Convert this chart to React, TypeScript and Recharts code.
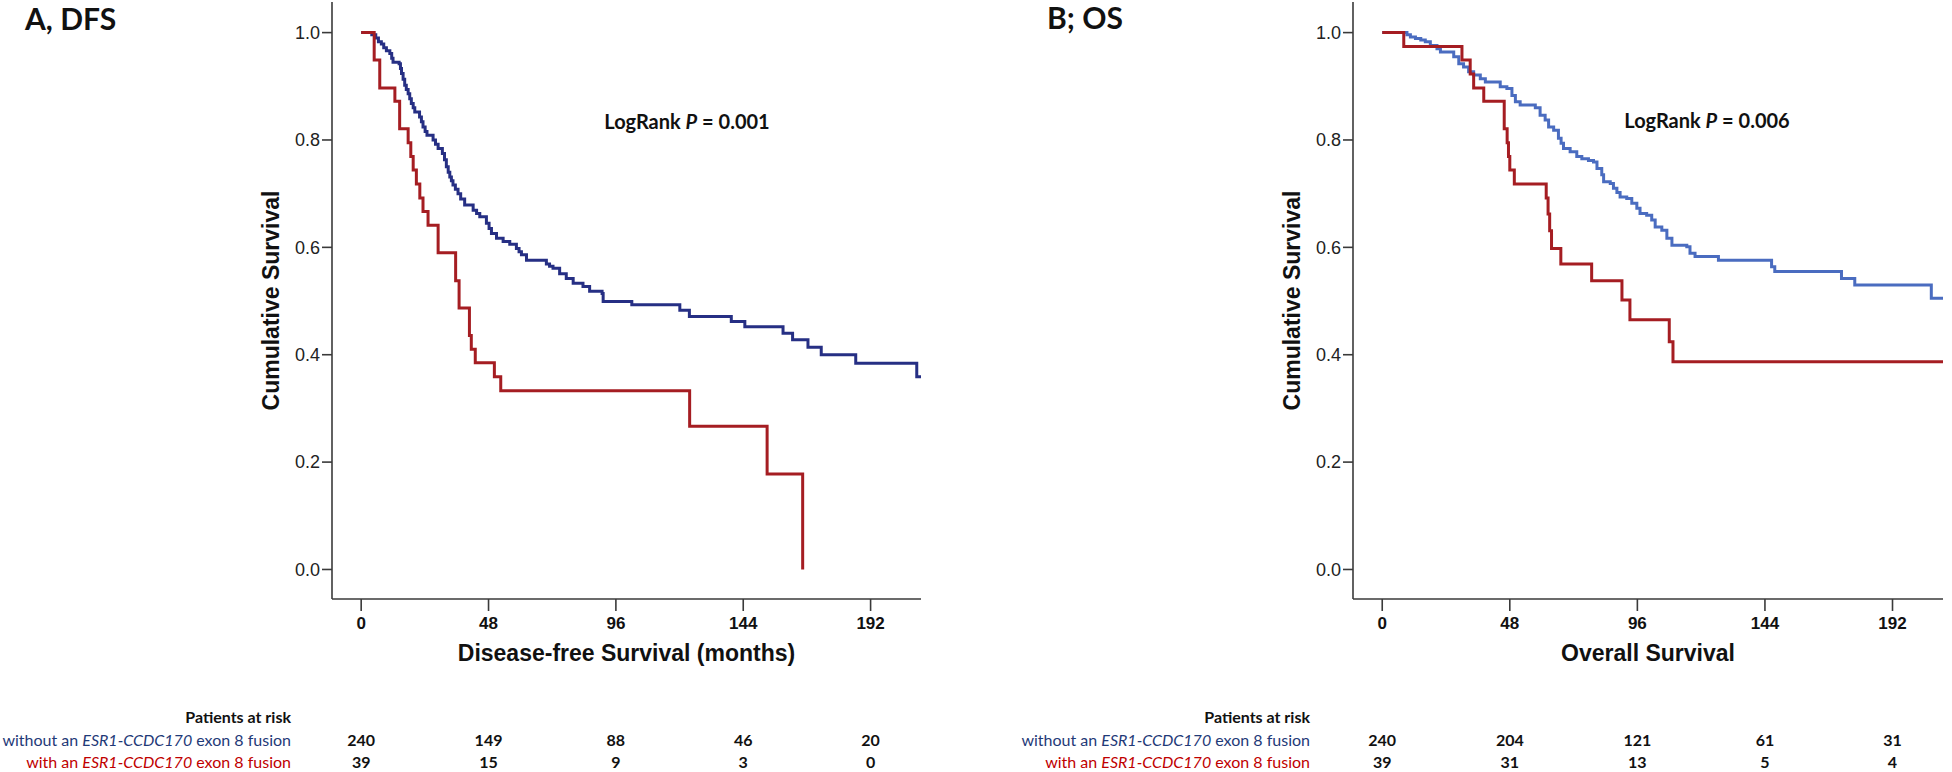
import React from 'react';
import { LineChart, Line, XAxis, YAxis } from 'recharts';

// tick values shared by both panels
const monthTicks = [0, 48, 96, 144, 192];
const survivalTicks = [0, 0.2, 0.4, 0.6, 0.8, 1.0];

// A: disease-free survival, patients without the fusion
const dfsWithoutMonths = [0, 4.0, 5.5, 6.5, 7.6, 8.5, 9.5, 10.8, 11.5, 12.0, 14.3, 14.8, 15.2, 15.8, 16.4, 17.0, 17.7, 18.3, 18.9, 19.6, 20.2, 22.0, 22.7, 23.3, 24.1, 24.8, 27.1, 28.0, 29.0, 30.6, 31.4, 32.1, 32.8, 33.4, 34.0, 34.6, 35.5, 36.5, 37.5, 39.0, 42.2, 43.5, 44.7, 47.2, 48.2, 49.1, 51.0, 53.5, 56.0, 58.5, 59.5, 60.4, 62.3, 69.8, 71.0, 72.3, 74.8, 77.3, 79.9, 83.6, 86.1, 90.8, 91.2, 102.0, 120.1, 123.7, 139.5, 144.6, 159.0, 162.6, 168.4, 173.4, 186.4, 209.4, 211];
const dfsWithoutSurv = [1, 0.996, 0.99, 0.983, 0.979, 0.972, 0.966, 0.961, 0.952, 0.945, 0.942, 0.933, 0.924, 0.913, 0.902, 0.894, 0.886, 0.877, 0.868, 0.86, 0.852, 0.843, 0.834, 0.824, 0.816, 0.809, 0.8, 0.792, 0.784, 0.775, 0.763, 0.75, 0.74, 0.731, 0.724, 0.716, 0.708, 0.7, 0.69, 0.679, 0.669, 0.663, 0.657, 0.645, 0.635, 0.626, 0.617, 0.611, 0.606, 0.598, 0.592, 0.586, 0.576, 0.569, 0.565, 0.561, 0.551, 0.542, 0.533, 0.527, 0.518, 0.514, 0.499, 0.493, 0.483, 0.471, 0.462, 0.452, 0.44, 0.428, 0.414, 0.4, 0.384, 0.359, 0.359];

// A: with the fusion
const dfsWithMonths = [0, 4.9, 7.0, 12.7, 14.5, 17.7, 18.7, 19.6, 20.8, 22.1, 23.3, 25.2, 29.0, 35.6, 36.9, 40.8, 41.5, 43.0, 50.2, 52.6, 123.8, 153.0, 166.4];
const dfsWithSurv = [1, 0.949, 0.897, 0.872, 0.821, 0.795, 0.769, 0.744, 0.718, 0.692, 0.667, 0.641, 0.59, 0.538, 0.487, 0.436, 0.41, 0.385, 0.359, 0.333, 0.267, 0.178, 0];

// B: overall survival, without the fusion
const osWithoutMonths = [0, 9.3, 10.6, 12.5, 14.5, 16.2, 18.1, 20.6, 21.9, 26.9, 28.8, 30.6, 32.5, 34.4, 36.9, 38.8, 44.4, 46.9, 48.8, 50.1, 51.9, 57.6, 59.4, 61.3, 62.6, 64.5, 66.3, 67.3, 68.2, 70.7, 73.2, 75.1, 77.6, 79.5, 80.8, 82.6, 83.3, 85.8, 87.0, 88.3, 89.5, 92.0, 93.9, 95.8, 97.0, 99.5, 101.4, 102.7, 105.2, 107.1, 109.0, 114.6, 115.8, 117.7, 126.5, 146.5, 147.7, 172.8, 177.8, 206.6, 211];
const osWithoutSurv = [1, 0.996, 0.992, 0.989, 0.986, 0.983, 0.976, 0.97, 0.964, 0.955, 0.942, 0.936, 0.927, 0.921, 0.914, 0.908, 0.899, 0.896, 0.883, 0.871, 0.865, 0.86, 0.846, 0.837, 0.824, 0.818, 0.803, 0.794, 0.784, 0.778, 0.769, 0.765, 0.762, 0.759, 0.747, 0.735, 0.722, 0.719, 0.71, 0.702, 0.694, 0.691, 0.682, 0.673, 0.663, 0.66, 0.651, 0.638, 0.632, 0.617, 0.604, 0.601, 0.589, 0.583, 0.576, 0.564, 0.555, 0.542, 0.53, 0.505, 0.505];

// B: with the fusion
const osWithMonths = [0, 8.1, 30.0, 33.1, 34.4, 38.2, 45.9, 47.0, 47.5, 48.0, 49.7, 61.7, 62.4, 63.0, 63.7, 67.2, 78.8, 90.2, 93.2, 108.0, 109.4, 211];
const osWithSurv = [1, 0.974, 0.949, 0.923, 0.897, 0.872, 0.821, 0.795, 0.769, 0.744, 0.718, 0.692, 0.662, 0.631, 0.598, 0.569, 0.538, 0.502, 0.465, 0.424, 0.387, 0.387];

// patients at risk at each month tick
const dfsRiskWithout = [240, 149, 88, 46, 20];
const dfsRiskWith = [39, 15, 9, 3, 0];
const osRiskWithout = [240, 204, 121, 61, 31];
const osRiskWith = [39, 31, 13, 5, 4];

const X_DOMAIN = [-11, 211];
const Y_DOMAIN = [-0.055, 1.057];

const ARIAL = '"Liberation Sans", Arial, sans-serif';
const CALIBRI = 'Lato, "Open Sans", sans-serif';
const AXIS = '#3a3a3a';
const RED = '#a51d22';
const NAVY = '#262f84';
const LIGHT_BLUE = '#4a6cc0';

// baselines of the two at-risk rows and of the row header
const RISK_HEAD_Y = 723;
const RISK_ROW1_Y = 746;
const RISK_ROW2_Y = 768;

const toSteps = (months: number[], surv: number[]) =>
  months.map((t, i) => ({ t, s: surv[i] }));

interface PanelProps {
  left: number;
  width: number;
  marginLeft: number;
  marginRight: number;
  withoutData: { t: number; s: number }[];
  withData: { t: number; s: number }[];
  withoutColor: string;
  riskWithout: number[];
  riskWith: number[];
  xTitle: string;
}

const PLOT_BOTTOM = 599;

const KmPanel = ({
  left, width, marginLeft, marginRight, withoutData, withData, withoutColor, riskWithout, riskWith, xTitle,
}: PanelProps) => {
  // month label, and under it the numbers at risk for that month
  const monthTick = (props: any) => {
    const { x, y, payload } = props;
    const i = monthTicks.indexOf(payload.value);
    const risk = { fontFamily: CALIBRI, fontWeight: 700, fontSize: 16, fill: '#111' };
    return (
      <g>
        <text
          x={x}
          y={y}
          dy="0.72em"
          textAnchor="middle"
          fontFamily={ARIAL}
          fontWeight={700}
          fontSize={17}
          fill="#111"
        >
          {payload.value}
        </text>
        <text x={x} y={RISK_ROW1_Y} textAnchor="middle" {...risk}>{riskWithout[i]}</text>
        <text x={x} y={RISK_ROW2_Y} textAnchor="middle" {...risk}>{riskWith[i]}</text>
      </g>
    );
  };

  return (
    <div style={{ position: 'absolute', left, top: 0 }}>
      <LineChart
        width={width}
        height={772}
        margin={{ top: 2, right: marginRight, left: marginLeft, bottom: 0 }}
      >
        <XAxis
          dataKey="t"
          type="number"
          domain={X_DOMAIN}
          allowDataOverflow
          ticks={monthTicks}
          height={772 - PLOT_BOTTOM}
          tickSize={12}
          tickMargin={6}
          stroke={AXIS}
          strokeWidth={1.6}
          tick={monthTick}
          label={{
            value: xTitle,
            position: 'insideBottom',
            offset: 772 - 661,
            style: { fill: '#111', fontSize: 23, fontWeight: 700, fontFamily: ARIAL },
          }}
        />
        <XAxis
          xAxisId="top"
          orientation="top"
          type="number"
          domain={X_DOMAIN}
          allowDataOverflow
          height={0}
          tick={false}
          tickLine={false}
          stroke={AXIS}
          strokeWidth={1.6}
        />
        <YAxis
          type="number"
          domain={Y_DOMAIN}
          allowDataOverflow
          ticks={survivalTicks}
          tickFormatter={(v: number) => v.toFixed(1)}
          width={122}
          tickSize={10}
          stroke={AXIS}
          strokeWidth={1.6}
          tick={{ fill: '#222', fontSize: 18, fontFamily: ARIAL }}
          label={{
            value: 'Cumulative Survival',
            angle: -90,
            position: 'center',
            style: { fill: '#111', fontSize: 23, fontWeight: 700, fontFamily: ARIAL },
          }}
        />
        <YAxis
          yAxisId="right"
          orientation="right"
          type="number"
          domain={Y_DOMAIN}
          allowDataOverflow
          width={0}
          tick={false}
          tickLine={false}
          stroke={AXIS}
          strokeWidth={1.6}
        />
        <Line
          data={withoutData}
          dataKey="s"
          type="stepAfter"
          stroke={withoutColor}
          strokeWidth={3}
          dot={false}
          isAnimationActive={false}
        />
        <Line
          data={withData}
          dataKey="s"
          type="stepAfter"
          stroke={RED}
          strokeWidth={3}
          dot={false}
          isAnimationActive={false}
        />
      </LineChart>
    </div>
  );
};

const RiskLabels = ({ right }: { right: number }) => (
  <g fontFamily={CALIBRI} fontSize={16} textAnchor="end">
    <text x={right} y={RISK_HEAD_Y} fontWeight={700} fill="#111">Patients at risk</text>
    <text x={right} y={RISK_ROW1_Y} fill="#1f3a78">
      without an <tspan fontStyle="italic">ESR1-CCDC170</tspan> exon 8 fusion
    </text>
    <text x={right} y={RISK_ROW2_Y} fill="#c00000">
      with an <tspan fontStyle="italic">ESR1-CCDC170</tspan> exon 8 fusion
    </text>
  </g>
);

export default function App() {
  return (
    <div style={{ position: 'absolute', left: 0, top: 0, width: 1952, height: 772, background: '#fff', overflow: 'hidden' }}>
      <KmPanel
        left={0}
        width={950}
        marginLeft={210}
        marginRight={29}
        withoutData={toSteps(dfsWithoutMonths, dfsWithoutSurv)}
        withData={toSteps(dfsWithMonths, dfsWithSurv)}
        withoutColor={NAVY}
        riskWithout={dfsRiskWithout}
        riskWith={dfsRiskWith}
        xTitle="Disease-free Survival (months)"
      />
      <KmPanel
        left={1000}
        width={952}
        marginLeft={231}
        marginRight={9}
        withoutData={toSteps(osWithoutMonths, osWithoutSurv)}
        withData={toSteps(osWithMonths, osWithSurv)}
        withoutColor={LIGHT_BLUE}
        riskWithout={osRiskWithout}
        riskWith={osRiskWith}
        xTitle="Overall Survival"
      />
      <svg
        width={1952}
        height={772}
        style={{ position: 'absolute', left: 0, top: 0, pointerEvents: 'none' }}
      >
        <g fontFamily={CALIBRI} fontWeight={700} fill="#111">
          <text x={25} y={30} fontSize={30}>A, DFS</text>
          <text x={1047} y={29} fontSize={30}>B; OS</text>
          <text x={687} y={129} fontSize={20} textAnchor="middle">
            LogRank <tspan fontStyle="italic">P</tspan> = 0.001
          </text>
          <text x={1707} y={128} fontSize={20} textAnchor="middle">
            LogRank <tspan fontStyle="italic">P</tspan> = 0.006
          </text>
        </g>
        <RiskLabels right={291} />
        <RiskLabels right={1310} />
      </svg>
    </div>
  );
}
